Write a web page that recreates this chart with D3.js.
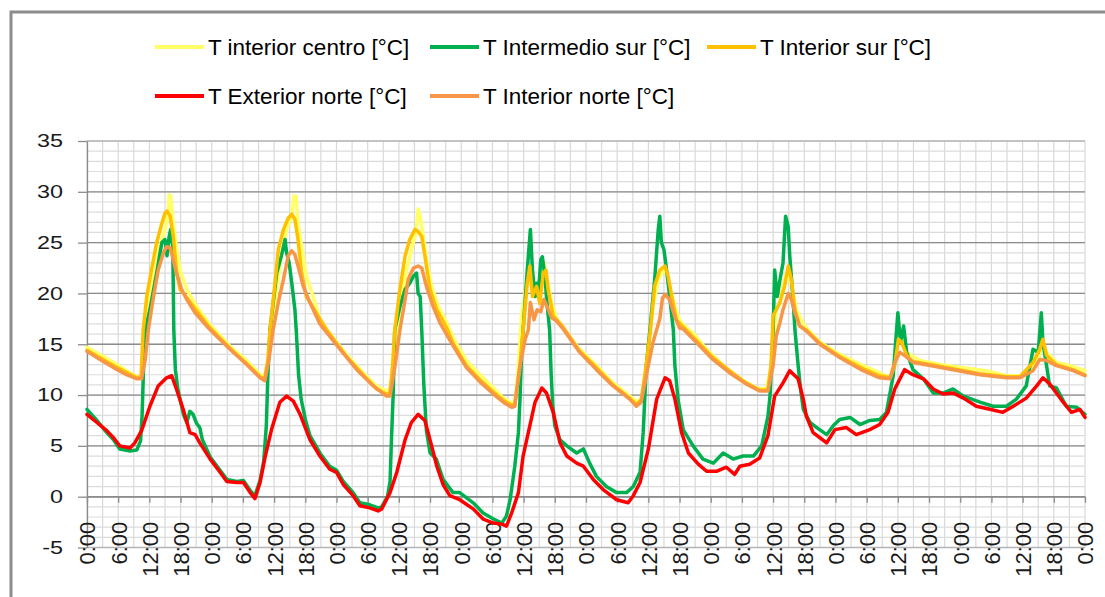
<!DOCTYPE html>
<html>
<head>
<meta charset="utf-8">
<script src="https://cdn.jsdelivr.net/npm/d3@7"></script>
<style>
body{margin:0;background:#fff;}
</style>
</head>
<body>
<svg id="chart" width="1105" height="597"></svg>
<script>
// hours since start (0..192) and temperature in °C
var tCentro = [[0,14.7],[2.5,14.0],[5.1,13.2],[7.6,12.4],[9.6,11.8],[10.5,11.7],[10.9,13.5],[11.2,16.4],[12.1,19.7],[13.1,22.3],[14,24.6],[15,26.3],[15.6,27.9],[15.8,29.7],[16.1,29.6],[16.5,27.3],[17.2,24.6],[17.9,22.3],[19.2,20.4],[21.1,18.7],[23.7,16.9],[27.5,14.8],[30.7,13.4],[33.3,12.0],[33.9,11.6],[34.6,12.9],[35.5,16.4],[36.5,20.4],[37.4,23.7],[38.4,26.3],[39.4,27.6],[39.8,29.6],[40.2,29.6],[40.6,26.9],[41.3,24.6],[42.2,21.7],[43.5,19.7],[44.8,17.4],[47.4,15.6],[49.9,14.0],[53.1,12.2],[55.7,10.9],[57.6,10.4],[58.3,10.6],[59.0,13],[59.6,16.4],[60.5,19.7],[61.5,22.3],[62.4,24.3],[63.3,26],[63.7,28.3],[64.1,27.6],[64.7,25.6],[65.4,23],[66.3,20.7],[67.6,18.7],[69.2,17.1],[70.5,15.6],[73,13.4],[75.6,12.0],[78.2,10.7],[80.1,9.7],[81.4,9.3],[82,8.9],[82.5,10],[83,12.9],[83.6,17.8],[84.2,19.7],[84.9,22.7],[85.5,20.7],[86.2,20.4],[86.8,20],[87.4,22],[87.9,23],[88.4,21.7],[89.4,19.1],[90.3,17.6],[92.3,16.1],[94.8,14.5],[98,12.9],[101.2,11.2],[104.4,9.9],[106,9.3],[107,9.9],[107.9,14.5],[108.9,18.8],[109.9,21.3],[110.8,22.3],[111.5,22],[112.1,20.7],[113.1,18.7],[114,17.4],[114.7,16.9],[116.6,16.1],[119.2,14.5],[122.4,12.9],[125.6,11.6],[128.8,10.7],[130.7,10.6],[131.7,12.9],[132.3,15.5],[132.6,18.4],[133.3,19.1],[134.2,21.4],[134.9,22.3],[135.5,20.7],[136.5,18.4],[137.5,17.3],[138.4,16.6],[141,15.2],[144.8,14.0],[149.3,12.9],[152.5,12.2],[154.5,11.7],[155.4,13.5],[156.1,15.8],[156.7,15.5],[157.7,14.2],[160.2,13.4],[164.1,13.0],[168.6,12.7],[173,12.4],[176.9,11.9],[179.5,11.9],[181.4,12.4],[183,13.5],[183.9,15.2],[184.6,14.2],[186.5,13.2],[189.1,12.9],[192,12.4]];

var tIntermedioSur = [[0,8.6],[1.9,7.5],[3.8,6.3],[5.1,5.6],[6.3,4.7],[8.3,4.5],[9.6,4.6],[10.3,5.5],[10.6,8],[10.9,13],[11.2,16.4],[12.1,18.4],[13.4,22],[14.4,25],[15,25.3],[15.4,23.7],[15.8,25.6],[16.1,26.3],[16.5,24.6],[16.7,16.4],[17.0,12.5],[17.5,10.5],[17.9,9.6],[18.6,8.0],[19.2,7.3],[19.8,8.4],[20.4,8.1],[21.1,7.2],[21.7,6.8],[22.2,5.6],[23.7,3.9],[25.6,2.6],[26.9,1.7],[28.8,1.5],[30.1,1.6],[31.4,0.6],[32.3,0.1],[33.3,1.6],[34.0,3.5],[34.5,7],[34.8,12],[35.2,16.4],[36.5,22],[37.4,23.7],[38.1,25.3],[38.4,24],[38.9,23],[39.4,21],[40,18.4],[40.3,16],[40.7,12],[41.2,9.6],[42,7.6],[42.9,6.0],[44.8,4.3],[46.7,3.0],[48,2.6],[49.3,1.5],[51.2,0.4],[52.5,-0.6],[54.4,-0.8],[56,-1.1],[56.7,-1.0],[57.8,0],[58.3,1.5],[58.6,6],[58.9,10],[59.2,16.4],[60.2,18.7],[61.2,20.4],[62.1,21],[62.8,21.7],[63.4,22],[63.7,20],[64.1,19.7],[64.4,16.4],[64.8,11],[65.3,6.5],[66,4.3],[67.2,3.7],[68.5,1.7],[70.4,0.4],[71.7,0.4],[74.3,-0.6],[76.2,-1.6],[78.2,-2.2],[79.8,-2.6],[80.7,-1.9],[81.4,-0.3],[82.3,3.0],[83,6.3],[83.3,9.6],[83.6,14],[83.9,16.4],[84.7,22.3],[85.3,26.3],[85.7,22.3],[86.2,19.7],[86.5,21],[86.8,19.7],[87.3,23.3],[87.6,23.6],[88.1,21.7],[88.5,19],[89,16.4],[89.3,12],[89.6,9],[90,7],[91,5.6],[92.3,5.0],[94.2,4.3],[95.5,4.7],[96.7,3.3],[98,2.0],[99.9,1.0],[101.9,0.4],[103.8,0.4],[105.1,1.0],[106.4,2.4],[107,6.3],[107.6,12.9],[108.3,16.4],[109.2,21.3],[109.9,26.3],[110.2,27.6],[110.5,25],[111,24.3],[111.5,22.3],[112.1,19.7],[112.8,16.4],[113.1,12.9],[113.7,9.6],[114.7,6.6],[116.6,5.0],[118.5,3.7],[120.5,3.3],[122.4,4.3],[124.3,3.7],[126.2,4.0],[128.2,4.0],[129.8,5.0],[131,7.9],[131.4,9.9],[132,16.4],[132.3,22.3],[132.8,19.7],[133.3,21.3],[133.9,23],[134.4,27.6],[134.9,26.6],[135.2,23.7],[135.8,19.7],[136.2,16.4],[136.8,13],[137.3,10.5],[137.8,8.6],[139.1,7.3],[140.4,6.8],[142.3,6.1],[143.6,7.0],[144.8,7.6],[146.8,7.8],[148.7,7.1],[150.6,7.5],[152.5,7.6],[153.8,8.3],[155.1,11.9],[155.7,16.1],[156,18.1],[156.5,15.2],[157.1,16.8],[157.7,14.2],[158.9,12.5],[160.9,11.6],[162.8,10.2],[164.7,10.2],[166.6,10.6],[168.6,9.9],[171.8,9.3],[174.3,8.9],[176.9,8.9],[178.8,9.6],[180.7,10.9],[182,14.5],[183,14.2],[183.6,18.1],[183.9,15.2],[184.6,12.9],[185.2,10.9],[186.5,10.7],[188.4,8.9],[190.4,8.8],[192,8.1]];

var tInteriorSur = [[0,14.4],[5.1,12.9],[9.6,11.7],[10.4,11.8],[10.8,16.4],[11.5,19.7],[12.4,22.3],[13.4,25],[14.4,26.9],[15,27.9],[15.4,28.1],[16,27.6],[16.6,25.6],[17.2,22.3],[17.9,20.4],[19.2,19.6],[21.1,18.3],[23.7,16.6],[27.5,14.6],[30.7,13.1],[33.3,11.8],[34.2,11.6],[34.8,13.5],[35.2,16.4],[35.9,19.7],[36.8,24.3],[37.8,26.3],[38.7,27.4],[39.4,27.8],[40,27.3],[40.6,25.3],[41.3,22],[42.2,19.7],[43.5,18.6],[46,16.5],[49.9,13.8],[53.1,12],[55.7,10.6],[57.6,10.1],[58.3,10.2],[58.8,13],[59.2,16.4],[60.2,20.4],[61.2,23.7],[62.1,25.3],[63.1,26.3],[63.7,26.1],[64.4,25.6],[65,23.7],[66,20.4],[67.3,18.4],[69.2,16.6],[70.5,15],[73,12.9],[75.6,11.5],[78.2,10.3],[80.1,9.5],[81.7,9.0],[82.3,9.1],[83.3,13],[83.9,16.4],[84.7,21],[85.2,22.7],[85.7,19.7],[86.5,20.7],[87.1,19],[87.8,22],[88.3,22.3],[88.7,20.4],[89.7,17.8],[91.6,16.7],[94.8,14.3],[98,12.7],[101.2,11.0],[104.4,9.7],[105.7,9.1],[106.6,9.5],[107.6,13],[108.4,16.4],[109.2,20.7],[110.2,22.3],[111.2,22.7],[111.8,21.7],[112.5,19.7],[113.4,17.4],[114.7,16.7],[117.2,15.4],[120.4,13.7],[123.6,12.4],[126.8,11.2],[129.4,10.5],[131,10.5],[131.6,13],[132,17.8],[132.6,18.4],[133.3,19.1],[134.2,20.7],[134.9,22.7],[135.5,21.4],[136.2,18.4],[137.1,16.8],[138.4,16.4],[141,15.1],[144.8,13.8],[149.3,12.6],[152.5,11.9],[154.5,11.7],[155.4,12.9],[156.1,15.5],[156.7,15.2],[157.7,13.9],[158.9,13.3],[162.2,13],[166.6,12.6],[171.8,12.1],[176.9,11.8],[179.5,11.8],[182,13.2],[183.3,14.5],[183.9,15.5],[184.6,13.9],[186.5,13],[189.7,12.5],[192,12.0]];

var tExteriorNorte = [[0,8.1],[1.9,7.3],[3.8,6.5],[5.1,5.8],[6.3,5.0],[8.3,4.8],[9.2,5.3],[10.5,6.5],[12.1,8.9],[13.7,10.9],[15.3,11.7],[16.3,11.9],[17.2,10.6],[18.5,8.6],[19.8,6.3],[20.8,6.1],[21.7,5.3],[23.7,3.7],[25.6,2.4],[26.9,1.5],[28.8,1.4],[30.1,1.4],[31.4,0.4],[32.3,-0.2],[33.3,1.4],[34.3,4.0],[35.5,6.6],[37.1,9.3],[38.4,9.9],[39.7,9.4],[41,8.1],[42.9,5.6],[44.8,4.0],[46.7,2.7],[48,2.4],[49.3,1.2],[51.2,0.1],[52.5,-0.9],[54.4,-1.1],[56,-1.4],[56.7,-1.2],[58.3,0.4],[59.6,2.4],[61.2,5.6],[62.4,7.3],[63.7,8.1],[65,7.5],[66.3,5.0],[67.3,3.0],[68.5,1.2],[69.8,0.1],[71.7,-0.3],[74.3,-1.2],[76.2,-2.2],[78.2,-2.6],[79.8,-2.7],[80.7,-2.9],[81.7,-1.6],[83,0.4],[83.9,4.0],[84.9,6.3],[86.2,9.3],[87.5,10.7],[88.4,10.2],[89.7,8.3],[91,5.3],[92.3,4.0],[94.2,3.3],[95.5,3.0],[97.4,1.7],[99.3,0.7],[101.9,-0.3],[104.1,-0.6],[105.1,0.1],[106.4,1.4],[108,4.7],[109.6,9.6],[111.2,11.7],[112.1,11.4],[113.1,9.6],[114.4,6.3],[115.7,4.3],[117.6,3.2],[119.2,2.5],[121.1,2.5],[123.0,2.9],[124.6,2.2],[125.6,3.0],[127.5,3.2],[129.4,3.8],[131.0,6.0],[132.3,9.9],[133.9,11.2],[135.2,12.4],[136.8,11.6],[137.8,9.6],[138.4,7.9],[139.7,6.3],[141,5.8],[142.3,5.3],[143.9,6.6],[146.1,6.8],[148,6.1],[150.6,6.6],[152.5,7.1],[154.1,8.3],[155.4,10.6],[157.3,12.5],[158.9,12.0],[160.9,11.6],[162.8,10.6],[164.7,10.1],[166.6,10.2],[168.6,9.7],[171.1,8.9],[173.7,8.6],[176.2,8.3],[178.2,8.9],[180.7,9.7],[182.7,10.9],[183.9,11.7],[185.2,11.1],[186.5,10.2],[187.8,9.3],[189.4,8.3],[191,8.6],[192,7.8]];

var tInteriorNorte = [[0,14.3],[2.5,13.5],[5.1,12.7],[7.6,12.0],[9.6,11.6],[10.5,11.6],[11.2,13.5],[11.8,16.4],[12.8,19.7],[13.7,22.3],[14.7,24],[15.3,24.6],[16,24.5],[16.6,23.3],[17.2,22],[18.2,20.4],[19.2,19.4],[20.8,18.1],[23,16.8],[24.3,16.1],[27.5,14.5],[30.7,13.0],[33.3,11.7],[34.2,11.4],[35,13.5],[35.8,16.4],[36.8,19.1],[37.8,21.4],[38.7,23.7],[39.4,24.2],[40,23.8],[40.6,22.7],[41.6,20.7],[42.9,19.1],[44.8,17.0],[45.4,16.6],[48.7,14.5],[51.9,12.5],[55.1,10.9],[57.6,9.9],[58.3,9.9],[59.3,13],[60.2,16.4],[61.2,19.4],[61.8,21.4],[62.8,22.5],[63.7,22.7],[64.4,22.5],[65.3,20.7],[66.6,18.7],[67.9,17.1],[70.5,14.8],[73,12.7],[75.6,11.3],[78.2,10.1],[80.1,9.3],[81.7,8.8],[82.3,8.9],[83.3,12.9],[84.3,15.5],[84.9,16.4],[85.3,19.1],[86,17.4],[86.6,18.4],[87.3,18.2],[87.9,19.4],[88.5,18.7],[89.4,17.6],[90.3,17.3],[91.6,16.5],[94.8,14.2],[98,12.5],[101.2,10.9],[104.4,9.6],[105.7,8.9],[106.6,9.3],[107.6,11.9],[108.9,15.2],[110.2,17.5],[110.7,19.5],[111.2,19.9],[112.1,19.4],[113.1,17.7],[114,16.6],[114.7,16.5],[117.2,15.2],[120.4,13.5],[123.6,12.2],[126.8,11.1],[129.4,10.4],[131,10.4],[132,12.9],[132.6,15.8],[133.3,17.1],[133.9,18.4],[134.9,20],[135.5,19.4],[136.2,18.1],[137.1,16.8],[138.4,16.3],[141,15],[144.8,13.7],[149.3,12.4],[152.5,11.7],[154.5,11.6],[155.4,13.2],[156.4,14.2],[157.3,13.9],[158.9,13.2],[162.2,12.9],[166.6,12.5],[171.8,12.0],[176.9,11.7],[179.5,11.7],[182,12.4],[183.3,13.5],[184.6,13.4],[186.5,12.9],[189.7,12.4],[192,11.9]];

var seriesNames = ["T interior centro [°C]", "T Intermedio sur [°C]", "T Interior sur [°C]", "T Exterior norte [°C]", "T Interior norte [°C]"];
var seriesColors = ["#ffff66", "#00b050", "#ffc000", "#ff0000", "#f79646"];
var seriesData = [tCentro, tIntermedioSur, tInteriorSur, tExteriorNorte, tInteriorNorte];

var yTicks = [-5, 0, 5, 10, 15, 20, 25, 30, 35];
var hourTicks = d3.range(0, 193, 6);

var svg = d3.select("#chart");
var fontFam = "'Liberation Sans', Arial, sans-serif";

var x = d3.scaleLinear().domain([0, 192]).range([87, 1085]);
var y = d3.scaleLinear().domain([-5, 35]).range([547.5, 141]);

// outer frame of the chart
svg.append("path")
  .attr("d", "M11,597V12H1105")
  .attr("fill", "none")
  .attr("stroke", "#8c8c8c")
  .attr("stroke-width", 3);

// grid
var grid = svg.append("g");
grid.selectAll("line.v").data(d3.range(0, 193, 3)).enter().append("line")
  .attr("x1", function(d){ return x(d); }).attr("x2", function(d){ return x(d); })
  .attr("y1", y(35)).attr("y2", y(-5))
  .attr("stroke", "#d9d9d9").attr("stroke-width", 1.2);
grid.selectAll("line.minor").data(d3.range(-5, 36, 1)).enter().append("line")
  .attr("x1", x(0)).attr("x2", x(192))
  .attr("y1", function(d){ return y(d); }).attr("y2", function(d){ return y(d); })
  .attr("stroke", "#dcdcdc").attr("stroke-width", 1.2);
grid.selectAll("line.major").data(yTicks).enter().append("line")
  .attr("x1", x(0)).attr("x2", x(192))
  .attr("y1", function(d){ return y(d); }).attr("y2", function(d){ return y(d); })
  .attr("stroke", function(d){ return (d == 35 || d == -5) ? "#b4b4b4" : "#8c8c8c"; })
  .attr("stroke-width", 1.3);

// y axis
var yAxis = svg.append("g")
  .attr("transform", "translate(" + x(0) + ",0)")
  .call(d3.axisLeft(y).tickValues(yTicks).tickSize(9).tickSizeOuter(0)
    .tickFormat(function(v){ return String(v); }));
yAxis.select(".domain").attr("stroke", "#8c8c8c").attr("stroke-width", 1.3);
yAxis.selectAll(".tick line").attr("stroke", "#8c8c8c").attr("stroke-width", 1.3);
yAxis.selectAll(".tick text")
  .attr("x", -24 / 1.3)
  .attr("transform", "scale(1.3,1)")
  .attr("font-family", fontFam)
  .attr("font-size", 18)
  .attr("fill", "#1a1a1a");

// x axis, crossing at 0
var xAxis = svg.append("g")
  .attr("transform", "translate(0," + y(0) + ")")
  .call(d3.axisBottom(x).tickValues(hourTicks).tickSize(6).tickSizeOuter(0)
    .tickFormat(function(h){ return (h % 24) + ":00"; }));
xAxis.select(".domain").attr("stroke", "#8c8c8c").attr("stroke-width", 1.3);
xAxis.selectAll(".tick line").attr("stroke", "#8c8c8c").attr("stroke-width", 1.3);
xAxis.selectAll(".tick text")
  .attr("transform", "rotate(-90)")
  .attr("text-anchor", "end")
  .attr("x", -25)
  .attr("y", 0)
  .attr("dy", "0.36em")
  .attr("font-family", fontFam)
  .attr("font-size", 22)
  .attr("fill", "#1a1a1a");

// series
var line = d3.line()
  .x(function(d){ return x(d[0]); })
  .y(function(d){ return y(d[1]); });

svg.append("g").selectAll("path").data(seriesData).enter().append("path")
  .attr("d", line)
  .attr("fill", "none")
  .attr("stroke", function(d, i){ return seriesColors[i]; })
  .attr("stroke-width", 3.5)
  .attr("stroke-linejoin", "round")
  .attr("stroke-linecap", "round");

// legend: 3 items on first row, 2 on second
var legendCols = [155, 430, 707];
var legendRows = [47, 96];
var legend = svg.append("g").selectAll("g").data(seriesNames).enter().append("g")
  .attr("transform", function(d, i){
    return "translate(" + legendCols[i < 3 ? i : i - 3] + "," + legendRows[i < 3 ? 0 : 1] + ")";
  });
legend.append("line")
  .attr("x1", 0).attr("x2", 49).attr("y1", 0).attr("y2", 0)
  .attr("stroke", function(d, i){ return seriesColors[i]; })
  .attr("stroke-width", 4);
legend.append("text")
  .attr("x", 53)
  .attr("dy", "0.35em")
  .attr("font-family", fontFam)
  .attr("font-size", 22.5)
  .attr("fill", "#000")
  .text(function(d){ return d; });
</script>
</body>
</html>
